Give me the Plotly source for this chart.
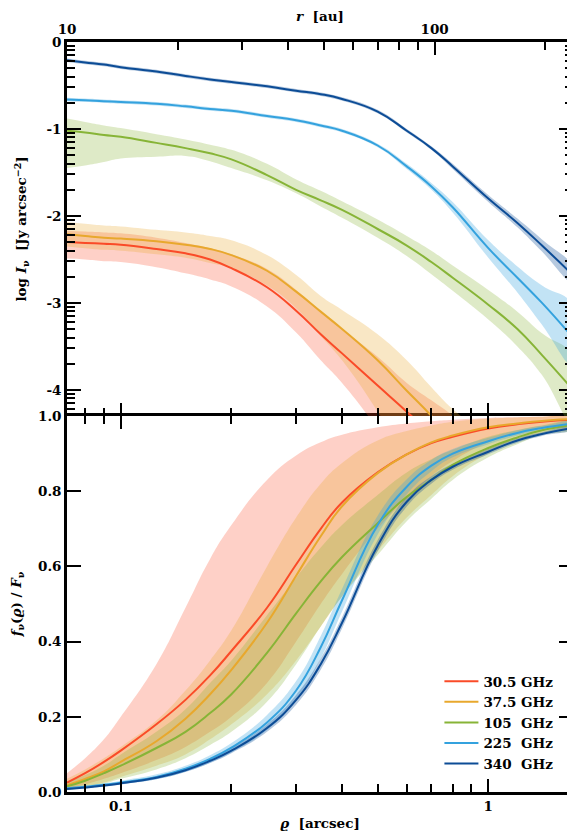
import numpy as np
import plotly.graph_objects as go

DIST_PC = 140.0
rho = [0.0714, 0.08, 0.09, 0.1, 0.125, 0.15, 0.175, 0.2, 0.25, 0.3, 0.35, 0.4, 0.5, 0.6, 0.7, 0.8, 1.0, 1.2, 1.4, 1.7]

labels = ["30.5 GHz", "37.5 GHz", "105\u00a0\u00a0GHz", "225\u00a0\u00a0GHz", "340\u00a0\u00a0GHz"]
line_colors = ["rgb(250,75,40)", "rgb(232,168,45)", "rgb(135,180,55)", "rgb(52,162,222)", "rgb(12,76,150)"]
band_colors = ["rgba(250,75,40,0.26)", "rgba(232,168,45,0.28)", "rgba(135,180,55,0.28)", "rgba(52,162,222,0.30)", "rgba(12,76,150,0.30)"]

# top panel: log I_nu
logI_305 = [-2.30, -2.31, -2.32, -2.33, -2.38, -2.43, -2.50, -2.60, -2.82, -3.09, -3.36, -3.58, -3.95, -4.25, -4.52, -4.80, -5.3, -5.8, -6.2, -6.7]
logI_305_lo = [-2.49, -2.50, -2.52, -2.53, -2.59, -2.66, -2.73, -2.81, -3.04, -3.34, -3.66, -3.92, -4.45, -4.95, -5.4, -5.8, -6.6, -7.1, -7.6, -8.1]
logI_305_hi = [-2.17, -2.18, -2.19, -2.20, -2.25, -2.31, -2.37, -2.44, -2.61, -2.85, -3.10, -3.30, -3.62, -3.92, -4.12, -4.30, -4.7, -5.1, -5.5, -6.0]

logI_375 = [-2.21, -2.23, -2.25, -2.26, -2.29, -2.33, -2.38, -2.45, -2.63, -2.87, -3.10, -3.30, -3.66, -4.01, -4.30, -4.60, -5.1, -5.5, -5.9, -6.4]
logI_375_lo = [-2.35, -2.37, -2.39, -2.40, -2.44, -2.48, -2.54, -2.60, -2.80, -3.06, -3.38, -3.66, -4.25, -4.8, -5.3, -5.8, -6.5, -7.0, -7.5, -8.0]
logI_375_hi = [-2.07, -2.09, -2.11, -2.12, -2.16, -2.19, -2.23, -2.28, -2.45, -2.68, -2.92, -3.08, -3.36, -3.66, -3.97, -4.22, -4.55, -4.9, -5.3, -5.8]

logI_105 = [-1.02, -1.04, -1.07, -1.09, -1.16, -1.22, -1.28, -1.35, -1.53, -1.70, -1.82, -1.93, -2.15, -2.34, -2.53, -2.71, -3.02, -3.30, -3.60, -4.00]
logI_105_lo = [-1.45, -1.42, -1.38, -1.34, -1.32, -1.31, -1.37, -1.45, -1.59, -1.74, -1.89, -2.02, -2.25, -2.46, -2.67, -2.86, -3.19, -3.50, -3.83, -4.40]
logI_105_hi = [-0.88, -0.92, -0.96, -0.99, -1.06, -1.12, -1.18, -1.24, -1.40, -1.58, -1.71, -1.83, -2.04, -2.23, -2.40, -2.57, -2.85, -3.10, -3.35, -3.62]

logI_225 = [-0.66, -0.67, -0.68, -0.69, -0.71, -0.74, -0.77, -0.79, -0.85, -0.90, -0.96, -1.02, -1.19, -1.43, -1.66, -1.90, -2.37, -2.71, -3.00, -3.40]
logI_225_lo = [-0.68, -0.69, -0.70, -0.71, -0.73, -0.76, -0.79, -0.81, -0.87, -0.92, -0.98, -1.04, -1.21, -1.46, -1.70, -1.96, -2.48, -2.88, -3.25, -3.72]
logI_225_hi = [-0.64, -0.65, -0.66, -0.67, -0.69, -0.72, -0.75, -0.77, -0.83, -0.88, -0.94, -1.00, -1.17, -1.40, -1.62, -1.84, -2.28, -2.58, -2.80, -3.03]

logI_340 = [-0.21, -0.235, -0.26, -0.29, -0.34, -0.39, -0.43, -0.46, -0.51, -0.56, -0.60, -0.655, -0.80, -1.02, -1.22, -1.43, -1.80, -2.08, -2.34, -2.68]
logI_340_lo = [-0.23, -0.255, -0.28, -0.31, -0.36, -0.41, -0.45, -0.48, -0.53, -0.58, -0.62, -0.675, -0.82, -1.04, -1.24, -1.46, -1.84, -2.13, -2.41, -2.77]
logI_340_hi = [-0.19, -0.215, -0.24, -0.27, -0.32, -0.37, -0.41, -0.44, -0.49, -0.54, -0.58, -0.635, -0.78, -1.00, -1.20, -1.40, -1.76, -2.03, -2.27, -2.59]

# bottom panel: cumulative flux fraction
f_305 = [0.025, 0.05, 0.08, 0.11, 0.18, 0.245, 0.31, 0.375, 0.49, 0.605, 0.70, 0.77, 0.85, 0.898, 0.928, 0.945, 0.967, 0.978, 0.985, 0.99]
f_305_lo = [0.01, 0.02, 0.035, 0.05, 0.085, 0.12, 0.16, 0.20, 0.29, 0.40, 0.50, 0.58, 0.70, 0.78, 0.84, 0.88, 0.93, 0.955, 0.97, 0.982]
f_305_hi = [0.05, 0.09, 0.14, 0.20, 0.34, 0.49, 0.62, 0.71, 0.83, 0.895, 0.93, 0.95, 0.97, 0.98, 0.986, 0.99, 0.995, 0.997, 0.998, 0.999]

f_375 = [0.018, 0.035, 0.055, 0.08, 0.135, 0.195, 0.26, 0.325, 0.45, 0.575, 0.68, 0.76, 0.848, 0.898, 0.93, 0.948, 0.97, 0.98, 0.987, 0.992]
f_375_lo = [0.008, 0.015, 0.025, 0.04, 0.07, 0.10, 0.14, 0.18, 0.26, 0.35, 0.44, 0.52, 0.64, 0.73, 0.79, 0.84, 0.90, 0.935, 0.955, 0.97]
f_375_hi = [0.035, 0.06, 0.09, 0.12, 0.19, 0.27, 0.35, 0.43, 0.60, 0.73, 0.82, 0.875, 0.935, 0.96, 0.975, 0.985, 0.993, 0.996, 0.998, 0.999]

f_105 = [0.015, 0.03, 0.05, 0.07, 0.117, 0.16, 0.21, 0.26, 0.37, 0.475, 0.56, 0.625, 0.715, 0.785, 0.83, 0.87, 0.915, 0.943, 0.962, 0.976]
f_105_lo = [0.005, 0.012, 0.022, 0.035, 0.06, 0.09, 0.125, 0.16, 0.24, 0.34, 0.44, 0.52, 0.63, 0.72, 0.78, 0.83, 0.89, 0.925, 0.95, 0.965]
f_105_hi = [0.025, 0.045, 0.07, 0.10, 0.16, 0.22, 0.29, 0.35, 0.47, 0.57, 0.65, 0.71, 0.79, 0.85, 0.885, 0.91, 0.945, 0.963, 0.975, 0.985]

f_225 = [0.01, 0.014, 0.019, 0.025, 0.04, 0.062, 0.088, 0.118, 0.185, 0.27, 0.385, 0.51, 0.71, 0.812, 0.868, 0.90, 0.933, 0.955, 0.968, 0.98]
f_225_lo = [0.007, 0.011, 0.015, 0.021, 0.034, 0.054, 0.078, 0.105, 0.165, 0.245, 0.355, 0.48, 0.685, 0.792, 0.853, 0.89, 0.925, 0.948, 0.963, 0.976]
f_225_hi = [0.013, 0.017, 0.023, 0.03, 0.047, 0.07, 0.098, 0.13, 0.205, 0.295, 0.415, 0.54, 0.735, 0.832, 0.883, 0.912, 0.942, 0.962, 0.974, 0.985]

f_340 = [0.008, 0.012, 0.017, 0.023, 0.038, 0.058, 0.083, 0.11, 0.17, 0.245, 0.34, 0.45, 0.655, 0.772, 0.83, 0.865, 0.905, 0.935, 0.952, 0.968]
f_340_lo = [0.006, 0.01, 0.014, 0.02, 0.034, 0.053, 0.077, 0.103, 0.16, 0.232, 0.325, 0.435, 0.64, 0.759, 0.82, 0.857, 0.898, 0.929, 0.947, 0.964]
f_340_hi = [0.01, 0.014, 0.02, 0.026, 0.042, 0.063, 0.089, 0.117, 0.18, 0.258, 0.355, 0.465, 0.67, 0.785, 0.84, 0.873, 0.912, 0.941, 0.957, 0.972]

top_lines = [logI_305, logI_375, logI_105, logI_225, logI_340]
top_lo = [logI_305_lo, logI_375_lo, logI_105_lo, logI_225_lo, logI_340_lo]
top_hi = [logI_305_hi, logI_375_hi, logI_105_hi, logI_225_hi, logI_340_hi]
bot_lines = [f_305, f_375, f_105, f_225, f_340]
bot_lo = [f_305_lo, f_375_lo, f_105_lo, f_225_lo, f_340_lo]
bot_hi = [f_305_hi, f_375_hi, f_105_hi, f_225_hi, f_340_hi]

FONT = "DejaVu Serif"
SM = 1.3
fig = go.Figure()

def band(lo, hi, color, xa, ya):
    xs = list(rho) + list(rho)[::-1]
    ys = list(hi) + list(lo)[::-1]
    fig.add_trace(go.Scatter(x=xs, y=ys, fill="toself", fillcolor=color, mode="lines",
                             line=dict(width=0, shape="spline", smoothing=SM), hoverinfo="skip",
                             showlegend=False, xaxis=xa, yaxis=ya))

for i in range(5):
    band(top_lo[i], top_hi[i], band_colors[i], "x2", "y2")
for i in range(5):
    band(bot_lo[i], bot_hi[i], band_colors[i], "x", "y")
for i in range(5):
    fig.add_trace(go.Scatter(x=rho, y=top_lines[i], mode="lines",
                             line=dict(color=line_colors[i], width=2, shape="spline", smoothing=SM),
                             showlegend=False, xaxis="x2", yaxis="y2"))
for i in range(5):
    fig.add_trace(go.Scatter(x=rho, y=bot_lines[i], mode="lines", name=labels[i],
                             line=dict(color=line_colors[i], width=2, shape="spline", smoothing=SM),
                             showlegend=True, xaxis="x", yaxis="y"))

# invisible trace so the secondary (physical radius) axis is drawn
r_au = [v * DIST_PC for v in rho]
fig.add_trace(go.Scatter(x=[r_au[0], r_au[-1]], y=[None, None], mode="lines", showlegend=False,
                         hoverinfo="skip", xaxis="x3", yaxis="y2"))

xr = [np.log10(rho[0]), np.log10(rho[-1])]
rho_minor = [0.08, 0.09, 0.2, 0.3, 0.4, 0.5, 0.6, 0.7, 0.8, 0.9]
tickfont = dict(family=FONT, size=13.5, color="black", weight="bold")
titlefont = dict(family=FONT, size=13.5, color="black", weight="bold")
LW = 2.6

common_x = dict(type="log", range=xr, ticks="inside", ticklen=13, tickwidth=1.5, tickcolor="black",
                linewidth=LW, linecolor="black", showgrid=False, zeroline=False,
                automargin=False,
                tickmode="array", tickvals=[0.1, 1], ticktext=["0.1", "1"], tickfont=tickfont,
                minor=dict(ticks="inside", ticklen=8, tickwidth=1.5, tickcolor="black",
                           tickmode="array", tickvals=rho_minor, showgrid=False))

ymin_vals = []
for n in range(-5, 0):
    for k in range(2, 10):
        ymin_vals.append(float(np.log10(k * 10.0 ** n)))

# the page body adds an 8 px offset; the figure is sized so the plot area lands at the target place
OFF = 8
DOM = 376 / 750
fig.update_layout(
    width=575 - OFF, height=831 - OFF,
    margin=dict(l=67 - OFF, r=2, t=42 - OFF, b=39, autoexpand=False),
    plot_bgcolor="white", paper_bgcolor="white",
    xaxis=dict(**common_x, anchor="y", mirror="ticks", showline=True,
               title=dict(text="<i>ϱ</i>  [arcsec]", font=titlefont, standoff=6)),
    xaxis2=dict(**common_x, anchor="y2", matches="x", showticklabels=False, showline=False),
    xaxis3=dict(type="log", range=[np.log10(r_au[0]), np.log10(r_au[-1])],
                overlaying="x2", side="top", anchor="y2", ticks="inside", ticklen=13, tickwidth=1.5,
                tickcolor="black", showline=True, linewidth=LW, linecolor="black", showgrid=False,
                zeroline=False, automargin=False,
                tickmode="array", tickvals=[10, 100], ticktext=["10", "100"], tickfont=tickfont,
                minor=dict(ticks="inside", ticklen=8, tickwidth=1.5, tickcolor="black",
                           tickmode="array", tickvals=[20, 30, 40, 50, 60, 70, 80, 90, 200]),
                title=dict(text="<i>r</i>  [au]", font=titlefont, standoff=4)),
    yaxis=dict(domain=[0, DOM], range=[0, 1], ticks="inside", ticklen=14, tickwidth=1.5, tickcolor="black",
               showline=True, linewidth=LW, linecolor="black", mirror="ticks", showgrid=False, zeroline=False,
               automargin=False,
               tickmode="array", tickvals=[0, 0.2, 0.4, 0.6, 0.8, 1.0],
               ticktext=["0.0", "0.2", "0.4", "0.6", "0.8", "1.0"], tickfont=tickfont,
               title=dict(text="<i>f</i><sub>ν</sub>(<i>ϱ</i>) / <i>F</i><sub>ν</sub>", font=titlefont, standoff=16)),
    yaxis2=dict(domain=[DOM, 1], range=[-4.3, 0], ticks="inside", ticklen=14, tickwidth=1.5, tickcolor="black",
                showline=True, linewidth=LW, linecolor="black", mirror="ticks", showgrid=False, zeroline=False,
                automargin=False,
                tickmode="array", tickvals=[0, -1, -2, -3, -4], ticktext=["0", "-1", "-2", "-3", "-4"],
                tickfont=tickfont,
                minor=dict(ticks="inside", ticklen=8, tickwidth=1.5, tickcolor="black",
                           tickmode="array", tickvals=ymin_vals, showgrid=False),
                title=dict(text="log <i>I</i><sub>ν</sub>  [Jy arcsec<sup>−2</sup>]", font=titlefont, standoff=17)),
    legend=dict(x=0.736, y=0.168, xanchor="left", yanchor="top", bgcolor="rgba(0,0,0,0)",
                font=dict(family=FONT, size=13.5, color="black", weight="bold"), tracegroupgap=0,
                itemwidth=34),
    showlegend=True,
)

fig.write_html("out.html")
